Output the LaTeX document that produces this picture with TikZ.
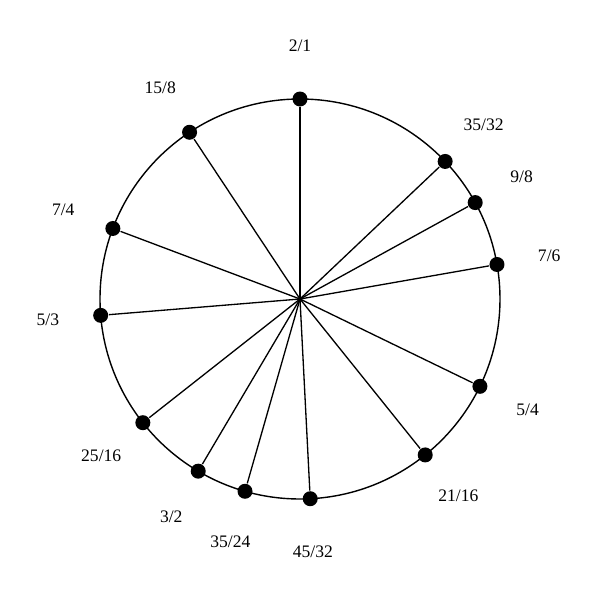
\documentclass[tikz,border=0pt]{standalone}
\usepackage{fontspec}
\setmainfont{Liberation Serif}
\usetikzlibrary{positioning}
\tikzset{
   every path/.style={line width=0.8pt},
   dot/.style={circle,fill=black,inner sep=0pt,minimum size=0.3cm},
   spoke/.style={-,color=black,line width=0.75pt},
   ratio/.style={font=\fontsize{10}{12}\selectfont,inner sep=1pt},
}

\begin{document}
\begin{tikzpicture}
        \useasboundingbox (-6,-6.02) rectangle (6,5.98);
        \coordinate (c) at (0,0);
        \draw (c) circle (4);

        \node[dot] (d21)   at (90:4) {};
        \node[dot] (d3532) at (43.46:4) {};
        \node[dot] (d98)   at (28.83:4) {};
        \node[dot] (d76)   at (9.94:4) {};
        \node[dot] (d54)   at (-25.89:4) {};
        \node[dot] (d2116) at (-51.23:4) {};
        \node[dot] (d4532) at (-87.07:4) {};
        \node[dot] (d3524) at (-105.96:4) {};
        \node[dot] (d32)   at (-120.59:4) {};
        \node[dot] (d2516) at (-141.79:4) {};
        \node[dot] (d53)   at (-175.31:4) {};
        \node[dot] (d74)   at (-200.65:4) {};
        \node[dot] (d158)  at (-236.48:4) {};

        \node[ratio] (l21)   at (90:5.06) {2/1};
        \node[ratio] (l3532) at (43.46:5.06) {35/32};
        \node[ratio] (l98)   at (28.83:5.06) {9/8};
        \node[ratio] (l76)   at (9.94:5.06) {7/6};
        \node[ratio] (l54)   at (-25.89:5.06) {5/4};
        \node[ratio] (l2116) at (-51.23:5.06) {21/16};
        \node[ratio] (l4532) at (-87.07:5.06) {45/32};
        \node[ratio] (l3524) at (-105.96:5.06) {35/24};
        \node[ratio] (l32)   at (-120.59:5.06) {3/2};
        \node[ratio] (l2516) at (-141.79:5.06) {25/16};
        \node[ratio] (l53)   at (-175.31:5.06) {5/3};
        \node[ratio] (l74)   at (-200.65:5.06) {7/4};
        \node[ratio] (l158)  at (-236.48:5.06) {15/8};

        \draw[spoke] (c) -- (d21);
        \draw[spoke] (c) -- (d3532);
        \draw[spoke] (c) -- (d98);
        \draw[spoke] (c) -- (d76);
        \draw[spoke] (c) -- (d54);
        \draw[spoke] (c) -- (d2116);
        \draw[spoke] (c) -- (d4532);
        \draw[spoke] (c) -- (d3524);
        \draw[spoke] (c) -- (d32);
        \draw[spoke] (c) -- (d2516);
        \draw[spoke] (c) -- (d53);
        \draw[spoke] (c) -- (d74);
        \draw[spoke] (c) -- (d158);
\end{tikzpicture}
\end{document}
